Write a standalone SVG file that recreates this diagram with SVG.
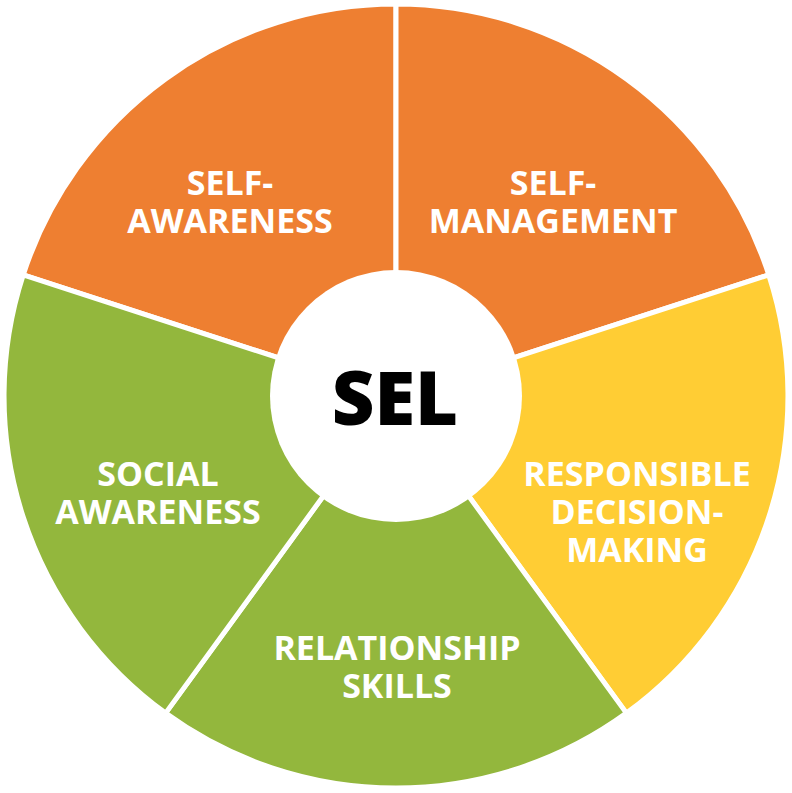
<svg xmlns="http://www.w3.org/2000/svg" width="792" height="793" viewBox="0 0 792 793">
<style>
.w{stroke:#fff;stroke-width:5;stroke-linejoin:miter}
.o{fill:#EE7F31}.y{fill:#FFCD34}.g{fill:#93B73D}
.t{font-family:"Open Sans","Liberation Sans",sans-serif;font-weight:700;font-size:34px;fill:#fff;text-anchor:middle}
</style>
<rect width="792" height="793" fill="#fff"/>
<circle cx="396" cy="396" r="393" fill="none" stroke="#cfe3f0" stroke-width="1"/>
<g id="self-awareness"><path class="w o" d="M396 396 L23.2 274.9 A392 392 0 0 1 396 4 Z"/><text class="t" x="230" y="195">SELF-</text><text class="t" x="230" y="233">AWARENESS</text></g>
<g id="self-management"><path class="w o" d="M396 396 L396 4 A392 392 0 0 1 768.8 274.9 Z"/><text class="t" x="553" y="195">SELF-</text><text class="t" x="553" y="233">MANAGEMENT</text></g>
<g id="responsible-decision-making"><path class="w y" d="M396 396 L768.8 274.9 A392 392 0 0 1 626.4 713.1 Z"/><text class="t" x="637" y="486">RESPONSIBLE</text><text class="t" x="637" y="524">DECISION-</text><text class="t" x="637" y="562">MAKING</text></g>
<g id="relationship-skills"><path class="w g" d="M396 396 L626.4 713.1 A392 392 0 0 1 165.6 713.1 Z"/><text class="t" x="397" y="660">RELATIONSHIP</text><text class="t" x="397" y="698">SKILLS</text></g>
<g id="social-awareness"><path class="w g" d="M396 396 L165.6 713.1 A392 392 0 0 1 23.2 274.9 Z"/><text class="t" x="158" y="486">SOCIAL</text><text class="t" x="158" y="524">AWARENESS</text></g>
<g id="sel"><circle cx="396" cy="396" r="126" fill="#fff"/><text x="395" y="425" font-family="Open Sans, Liberation Sans, sans-serif" font-weight="800" font-size="74" text-anchor="middle" fill="#000">SEL</text></g>
</svg>
